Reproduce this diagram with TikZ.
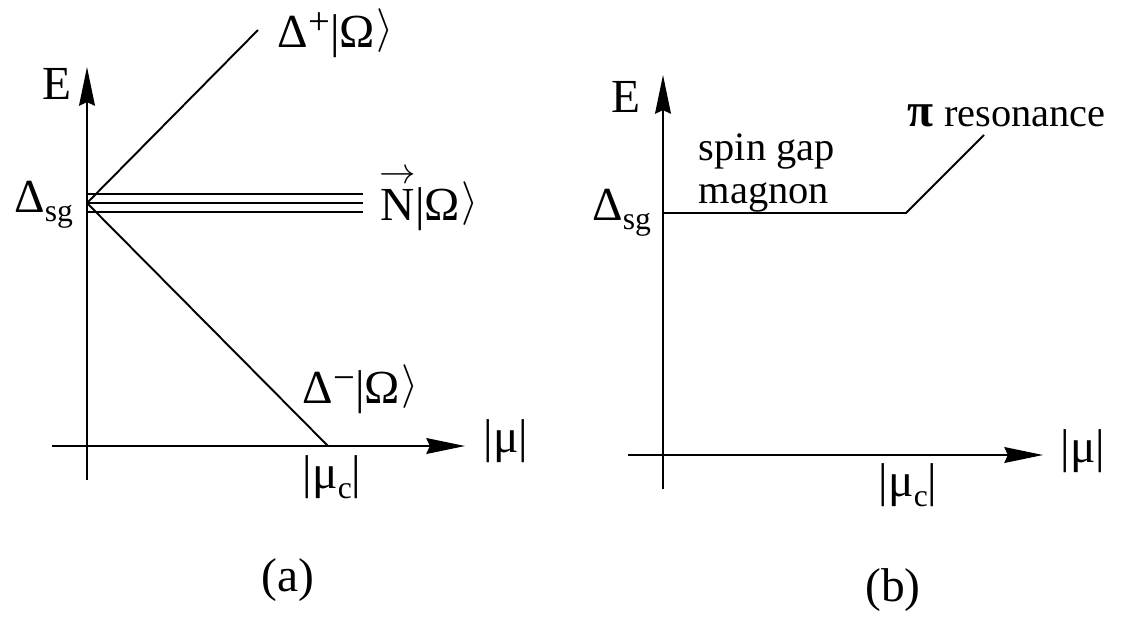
\documentclass[tikz,border=0pt]{standalone}
\usepackage{fontspec}
\setmainfont{Liberation Serif}
\usetikzlibrary{arrows.meta}

\newcommand{\ketom}{|Ω\kern1pt\raisebox{0.12em}{$\rangle$}}
\newcommand{\supr}[1]{\raisebox{0.27em}{\fontsize{22}{22}\selectfont #1}}
\newcommand{\subr}[1]{\raisebox{-0.2em}{\fontsize{18}{18}\selectfont #1}}
\newcommand{\vecN}{\leavevmode\rlap{\raisebox{0.76em}{\hbox to 0.72em{\hss\fontsize{20}{20}\selectfont$\boldsymbol{\rightarrow}$\hss}}}N}
\providecommand{\boldsymbol}[1]{\mathbf{#1}}

\begin{document}
\begin{tikzpicture}[
    x=0.02cm, y=-0.02cm,
    line width=1.1pt,
    every node/.style = {inner sep=0pt, font=\fontsize{27}{32}\selectfont},
    small/.style = {font=\fontsize{23}{24.4}\selectfont},
    axis/.style  = {-{Stealth[length=22pt, width=9pt, inset=2pt]}}
]
\useasboundingbox (0,0) rectangle (1125,620);

% panel (a): axes
\coordinate (ay0) at (87,480);
\coordinate (ay1) at (87,67);
\coordinate (ax0) at (52,446);
\coordinate (ax1) at (465,446);
\draw[axis] (ay0) -- (ay1);
\draw[axis] (ax0) -- (ax1);

% panel (a): levels
\coordinate (gapa)  at (87,203);
\coordinate (gapaT) at (87,194);
\coordinate (gapaB) at (87,212);
\coordinate (nmid)  at (363,203);
\coordinate (ntop)  at (363,194);
\coordinate (nbot)  at (363,212);
\coordinate (dpend) at (258,30);
\coordinate (muc)   at (328,446);
\draw (gapaT) -- (ntop);
\draw (gapa) -- (nmid);
\draw (gapaB) -- (nbot);
\draw (gapa) -- (dpend);
\draw (gapa) -- (muc);

% panel (a): labels
\node (Ea) at (57,84) {E};
\node[anchor=base east] (sga) at (74,212) {Δ\subr{sg}};
\node[anchor=base west] (dplus) at (277,47) {Δ\supr{+}\ketom};
\node[anchor=base west] (nvec) at (380,220) {\vecN\ketom};
\node[anchor=base west] (dminus) at (302,403) {Δ\supr{−}\ketom};
\node[anchor=west] (mua) at (483,441) {|μ|};
\node[anchor=north west] (muca) at (302,455) {|μ\subr{c}|};
\node (laba) at (288,580) {(a)};

% panel (b): axes
\coordinate (by0) at (663,489);
\coordinate (by1) at (663,75);
\coordinate (bx0) at (628,455);
\coordinate (bx1) at (1043,455);
\draw[axis] (by0) -- (by1);
\draw[axis] (bx0) -- (bx1);

% panel (b): magnon branch
\coordinate (gapb)  at (663,213);
\coordinate (kink)  at (906,213);
\coordinate (pires) at (984,135);
\draw (gapb) -- (kink) -- (pires);

% panel (b): labels
\node (Eb) at (626,97) {E};
\node[anchor=base east] (sgb) at (652,220) {Δ\subr{sg}};
\node[small, anchor=north west, align=left] (magnon) at (698,133) {spin gap\\magnon};
\node[small, anchor=base west] (pi) at (907,126) {{\fontsize{27}{27}\selectfont\bfseries π} resonance};
\node[anchor=west] (mub) at (1060,451) {|μ|};
\node[anchor=north west] (mucb) at (878,463) {|μ\subr{c}|};
\node (labb) at (893,590) {(b)};

\end{tikzpicture}
\end{document}
